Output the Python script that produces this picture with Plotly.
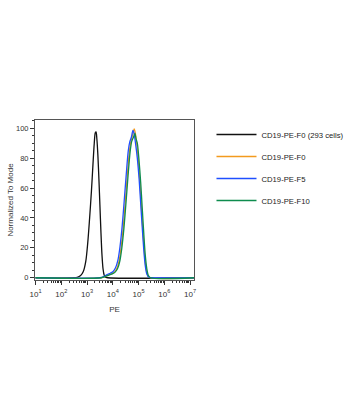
import numpy as np
import plotly.graph_objects as go

# ---- data (x as log10 exponents of PE intensity, y as % of mode) ----
black_exp = [1.0, 2.50, 2.62, 2.75, 2.85, 2.95, 3.03, 3.10, 3.17, 3.23, 3.28, 3.32, 3.35,
             3.38, 3.42, 3.46, 3.50, 3.54, 3.58, 3.62, 3.66, 3.70, 3.80, 7.15]
black_y = [0, 0, 0.3, 1.5, 4, 11, 24, 40, 58, 76, 90, 97, 97.5,
           93, 82, 66, 48, 30, 15, 6, 2, 0.5, 0, 0]

orange_exp = [1.0, 3.55, 3.70, 3.82, 3.95, 4.05, 4.15, 4.24, 4.32, 4.40, 4.48, 4.56, 4.64,
              4.70, 4.76, 4.83, 4.87, 4.93, 5.00, 5.06, 5.12, 5.18, 5.24, 5.30, 5.36, 5.44, 7.15]
orange_y = [0, 0, 0.8, 1.8, 2.6, 3.5, 6, 11, 20, 33, 50, 68, 84,
            91, 95, 99.5, 97, 89, 76, 61, 44, 28, 14, 5, 1.2, 0, 0]

blue_exp = [1.0, 3.50, 3.65, 3.78, 3.90, 4.00, 4.10, 4.20, 4.28, 4.36, 4.44, 4.52, 4.60,
            4.66, 4.72, 4.78, 4.82, 4.88, 4.95, 5.02, 5.08, 5.14, 5.20, 5.26, 5.32, 5.40, 5.50, 7.15]
blue_y = [0, 0, 0.8, 2.2, 3.0, 4.0, 6.5, 12, 21, 34, 51, 69, 85,
          91, 94, 98.5, 97, 90, 80, 66, 50, 34, 19, 8, 2.5, 0.3, 0, 0]

green_exp = [1.0, 3.55, 3.70, 3.85, 3.98, 4.08, 4.18, 4.27, 4.35, 4.43, 4.51, 4.59, 4.67,
             4.73, 4.80, 4.86, 4.90, 4.95, 5.01, 5.08, 5.14, 5.20, 5.26, 5.32, 5.38, 5.46, 7.15]
green_y = [0, 0, 0.8, 1.8, 2.6, 3.6, 6, 11, 20, 33, 50, 68, 84,
           91, 94, 96.5, 93, 90, 80, 64, 47, 30, 15, 6, 1.5, 0, 0]

series = [
    ("CD19-PE-F0 (293 cells)", black_exp, black_y, "#111111"),
    ("CD19-PE-F0", orange_exp, orange_y, "#F39A1E"),
    ("CD19-PE-F5", blue_exp, blue_y, "#1F4FFF"),
    ("CD19-PE-F10", green_exp, green_y, "#0E8C4E"),
]

x_tick_exp = [1, 2, 3, 4, 5, 6, 7]
x_tick_text = ["10<sup>%d</sup>" % e for e in x_tick_exp]
y_ticks = [0, 20, 40, 60, 80, 100]

fig = go.Figure()
for i, (name, ex, yy, col) in enumerate(series):
    fig.add_trace(go.Scatter(
        x=np.power(10.0, ex), y=yy, mode="lines", name=name,
        line=dict(color=col, width=1.3, shape="spline", smoothing=0.8),
        legendgroup="g%d" % i,
    ))

font = "Arial, Liberation Sans, sans-serif"
fig.update_layout(
    width=354, height=402,
    margin=dict(l=35, r=160, t=120, b=122, autoexpand=False),
    paper_bgcolor="white", plot_bgcolor="white",
    font=dict(family=font, size=7.5, color="#333333"),
    showlegend=True,
    legend=dict(x=1.11, y=1.0, xanchor="left", yanchor="top",
                font=dict(size=7.7, color="#222222"), tracegroupgap=3,
                itemwidth=40,
                bgcolor="rgba(0,0,0,0)"),
    xaxis=dict(
        type="log", range=[0.98, 7.15],
        tickvals=[10.0 ** e for e in x_tick_exp], ticktext=x_tick_text,
        ticks="outside", ticklen=4, tickcolor="#333333",
        minor=dict(ticks="outside", ticklen=2, tickcolor="#333333", dtick="D1"),
        showgrid=False, zeroline=False,
        showline=True, linecolor="#555555", linewidth=1, mirror=True,
        ticklabelstandoff=2,
        title=dict(text="PE", standoff=8, font=dict(size=8)),
        tickfont=dict(size=8),
    ),
    yaxis=dict(
        range=[-1.5, 105.5], tickvals=y_ticks,
        ticks="outside", ticklen=4, tickcolor="#333333",
        minor=dict(ticks="outside", ticklen=2, tickcolor="#333333", dtick=5),
        showgrid=False, zeroline=False,
        showline=True, linecolor="#555555", linewidth=1, mirror=True,
        title=dict(text="Normalized To Mode", standoff=1, font=dict(size=8)),
        tickfont=dict(size=7.5),
    ),
)

fig.write_html("out.html")
